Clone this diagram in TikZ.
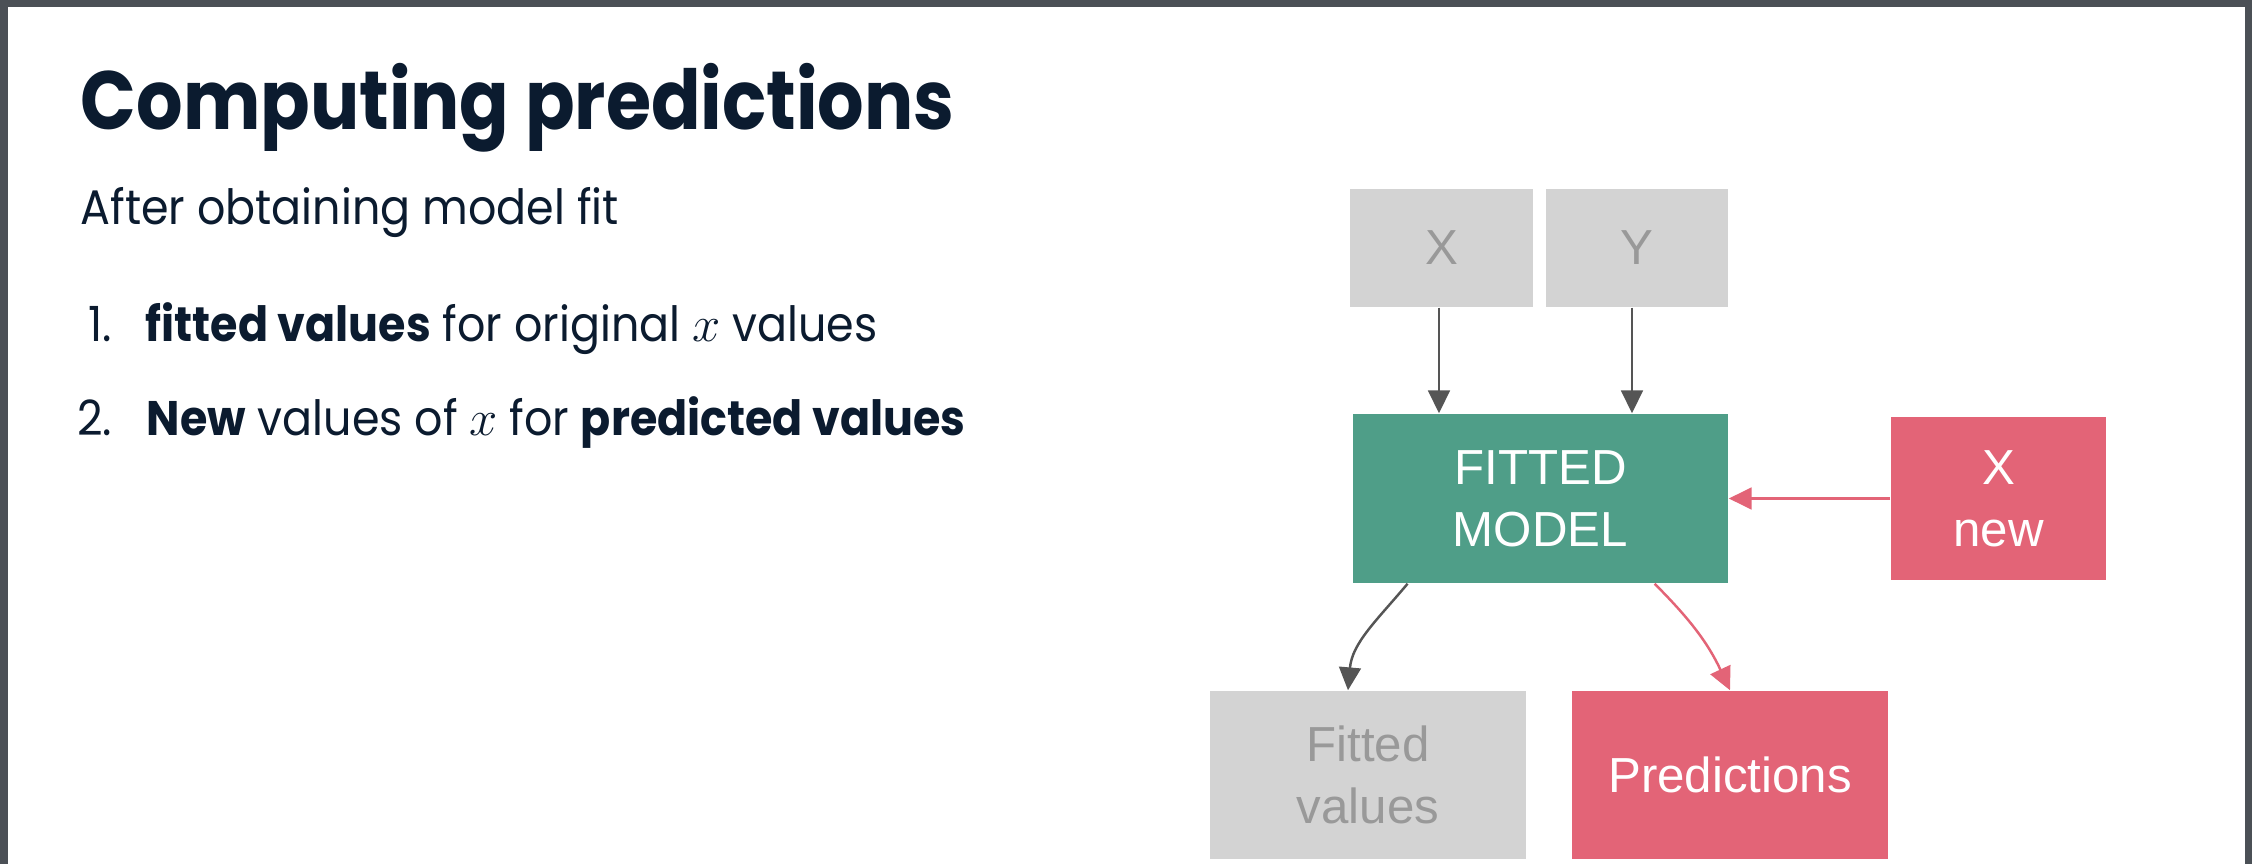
\documentclass[tikz,border=0pt]{standalone}
\usepackage{fontspec}
\setmainfont{Poppins}[FakeStretch=0.915]
\newfontfamily\titlefont{Poppins}[FakeStretch=0.885]
\newfontfamily\boxfont{Liberation Sans}
\usetikzlibrary{arrows.meta,calc}

\definecolor{framegray}{HTML}{4B5056}
\definecolor{navy}{HTML}{0B1B2F}
\definecolor{boxgray}{HTML}{D3D3D3}
\definecolor{textgray}{HTML}{999999}
\definecolor{modelgreen}{HTML}{4F9E88}
\definecolor{predred}{HTML}{E36477}
\definecolor{arrowgray}{HTML}{555555}

\tikzset{
  txt/.style={inner sep=0pt, text=navy},
  bodytxt/.style={txt, font=\fontsize{13.8}{17}\selectfont},
  flowbox/.style={rectangle, inner sep=0pt, align=center,
    font=\boxfont\fontsize{14}{17.6}\selectfont},
  graybox/.style={flowbox, fill=boxgray, text=textgray},
  greenbox/.style={flowbox, fill=modelgreen, text=white},
  redbox/.style={flowbox, fill=predred, text=white},
  grayarrow/.style={draw=arrowgray, line width=0.7pt,
    -{Triangle[length=6.5pt,width=6.2pt]}},
  redarrow/.style={draw=predred, line width=0.7pt,
    -{Triangle[length=6.5pt,width=6.2pt]}},
}

\begin{document}
\begin{tikzpicture}[x=0.01cm, y=-0.01cm]
  % canvas and frame
  \useasboundingbox (0,0) rectangle (2256,864);
  \fill[white] (0,0) rectangle (2256,864);
  \fill[framegray] (0,0) rectangle (2252,7);
  \fill[framegray] (0,0) rectangle (8,864);
  \fill[framegray] (2245,0) rectangle (2252,864);

  % text column
  \node[txt, anchor=base west, font=\titlefont\fontsize{23.5}{28}\selectfont\bfseries]
    (title) at (80,130) {Computing predictions};
  \node[bodytxt, anchor=base west] (intro) at (80,225) {After obtaining model fit};
  \node[bodytxt, anchor=base east] (n1) at (113,342) {1.};
  \node[bodytxt, anchor=base west]
    (item1) at (145,342) {\textbf{fitted values} for original $x$ values};
  \node[bodytxt, anchor=base east] (n2) at (113,436) {2.};
  \node[bodytxt, anchor=base west]
    (item2) at (146,436) {\textbf{New} values of $x$ for \textbf{predicted values}};

  % flow diagram
  \node[graybox, minimum width=1.83cm, minimum height=1.18cm]
    (xin) at (1441.5,248) {X};
  \node[graybox, minimum width=1.82cm, minimum height=1.18cm]
    (yin) at (1637,248) {Y};
  \node[greenbox, minimum width=3.75cm, minimum height=1.69cm]
    (model) at (1540.5,498.5) {FITTED\\MODEL};
  \node[redbox, minimum width=2.15cm, minimum height=1.63cm]
    (xnew) at (1998.5,498.5) {X\\new};
  \node[graybox, minimum width=3.16cm, minimum height=1.68cm]
    (fitted) at (1368,775) {Fitted\\values};
  \node[redbox, minimum width=3.16cm, minimum height=1.68cm]
    (pred) at (1730,775) {Predictions};

  % connectors
  \draw[grayarrow] ([xshift=-0.025cm]xin.south) -- ([xshift=-0.025cm]xin.south |- model.north);
  \draw[grayarrow] ([xshift=-0.05cm]yin.south) -- ([xshift=-0.05cm]yin.south |- model.north);
  \draw[redarrow] (xnew.west) -- (model.east |- xnew.west);
  \draw[grayarrow] ($(model.south west)!0.147!(model.south east)$)
    to[out=-130, in=85] ($(fitted.north west)!0.437!(fitted.north east)$);
  \draw[redarrow] ($(model.south west)!0.803!(model.south east)$)
    to[out=-45, in=115] (pred.north);
\end{tikzpicture}
\end{document}
